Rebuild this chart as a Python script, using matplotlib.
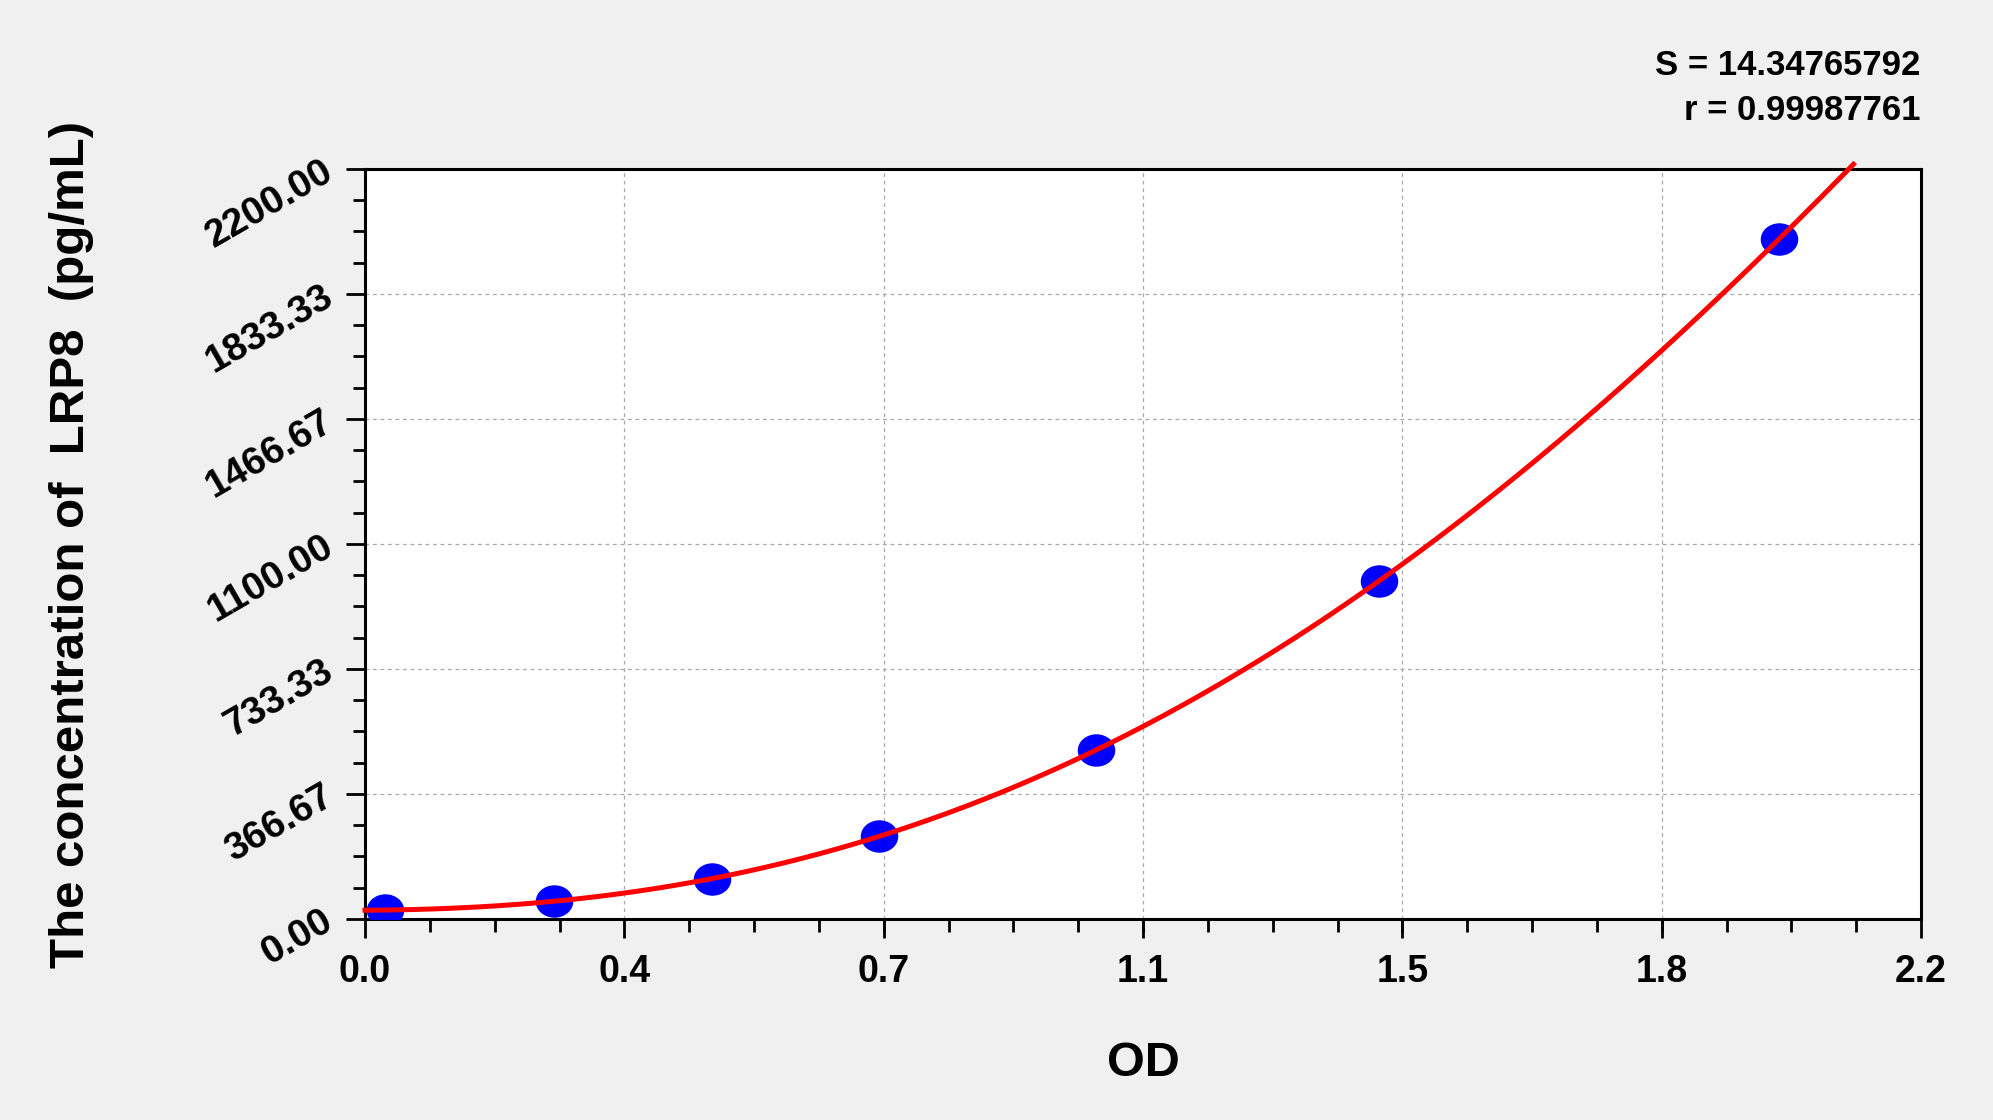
import numpy as np
import matplotlib
matplotlib.use("Agg")
import matplotlib.pyplot as plt
from matplotlib.path import Path
from matplotlib.transforms import Affine2D
from matplotlib.ticker import AutoMinorLocator, FixedLocator, FixedFormatter

# ---- data ----
od = [0.028, 0.267, 0.490, 0.727, 1.034, 1.434, 1.999]
conc = [26, 53, 117, 243, 496, 992, 1994]
x_tick_values = [0.0, 0.3667, 0.7333, 1.1, 1.4667, 1.8333, 2.2]
x_tick_labels = ["0.0", "0.4", "0.7", "1.1", "1.5", "1.8", "2.2"]
y_tick_values = [0.0, 366.67, 733.33, 1100.0, 1466.67, 1833.33, 2200.0]
y_tick_labels = ["0.00", "366.67", "733.33", "1100.00", "1466.67", "1833.33", "2200.00"]
stat_lines = ["S = 14.34765792", "r = 0.99987761"]
x_label = "OD"
y_label = "The concentration of  LRP8  (pg/mL)"

W, H = 1993, 1120
fig = plt.figure(figsize=(W / 100, H / 100), dpi=100)
fig.patch.set_facecolor("#f0f0f0")
plt.rcParams["font.family"] = ["Liberation Sans", "DejaVu Sans"]
plt.rcParams["font.weight"] = "bold"

left, right, top, bottom = 365, 1921, 169, 919
ax = fig.add_axes([left / W, 1 - bottom / H, (right - left) / W, (bottom - top) / H])
ax.set_facecolor("white")
ax.set_xlim(0, 2.2)
ax.set_ylim(0, 2200)

# grid
ax.grid(True, which="major", color="#a8a8a8", linestyle=(0, (3, 3)), linewidth=0.9)
ax.set_axisbelow(True)

# markers (ellipse)
ell = Path.unit_circle().transformed(Affine2D().scale(1.0, 0.86))
ax.plot(od, conc, linestyle="none", marker=ell, markersize=26,
        markerfacecolor="#0000ff", markeredgecolor="#0000ff", zorder=3)

# fitted curve
coef = np.polyfit(od, conc, 4)
xs = np.linspace(0, 2.2, 600)
ys = np.polyval(coef, xs)
mask = ys <= 2215
ax.plot(xs[mask], ys[mask], color="#ff0000", linewidth=3.6, zorder=4, clip_on=False)

# ticks
ax.xaxis.set_major_locator(FixedLocator(x_tick_values))
ax.xaxis.set_major_formatter(FixedFormatter(x_tick_labels))
ax.yaxis.set_major_locator(FixedLocator(y_tick_values))
ax.yaxis.set_major_formatter(FixedFormatter(y_tick_labels))
ax.xaxis.set_minor_locator(AutoMinorLocator(4))
ax.yaxis.set_minor_locator(AutoMinorLocator(4))
ax.tick_params(axis="both", which="major", direction="out", length=14, width=2.0, color="black")
ax.tick_params(axis="both", which="minor", direction="out", length=9, width=2.0, color="black")
ax.tick_params(axis="x", which="major", pad=11, labelsize=27)
ax.tick_params(axis="y", which="major", pad=11, labelsize=28)
for lab in ax.get_xticklabels():
    lab.set_fontweight("bold")
for lab in ax.get_yticklabels():
    lab.set_fontweight("bold")
    lab.set_rotation(30)
    lab.set_ha("right")
    lab.set_va("center")
    lab.set_rotation_mode("anchor")

for sp in ax.spines.values():
    sp.set_linewidth(2.2)
    sp.set_color("black")

# labels
fig.text(72 / W, 1 - 544 / H, y_label, rotation=90, ha="center", va="center",
         fontsize=35.5, fontweight="bold")
fig.text(1143 / W, 1 - 1063 / H, x_label, ha="center", va="center",
         fontsize=35, fontweight="bold")

# stats text
fig.text(1920 / W, 1 - 75 / H, stat_lines[0], ha="right", va="baseline",
         fontsize=25, fontweight="bold")
fig.text(1920 / W, 1 - 120 / H, stat_lines[1], ha="right", va="baseline",
         fontsize=25, fontweight="bold")

fig.savefig("out.png", dpi=100, facecolor=fig.get_facecolor())
